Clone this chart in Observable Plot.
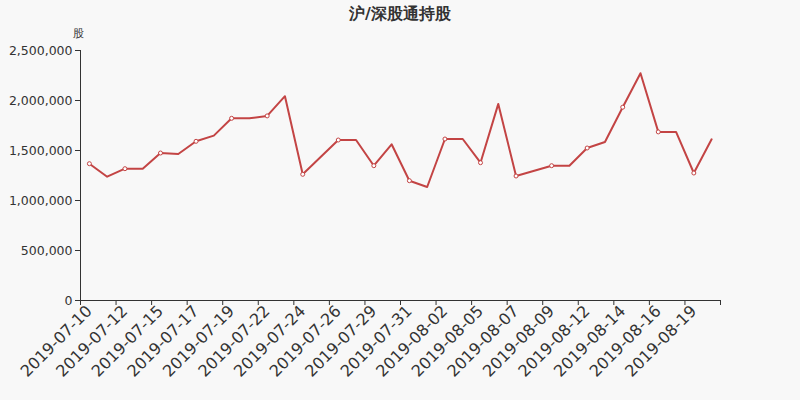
<!DOCTYPE html>
<html>
<head>
<meta charset="utf-8">
<script src="https://cdn.jsdelivr.net/npm/d3@7"></script>
<script src="https://cdn.jsdelivr.net/npm/@observablehq/plot@0.6"></script>
<style>
  body { margin: 0; background: #f8f8f8; font-family: "DejaVu Sans", sans-serif; }
  #wrap { position: relative; width: 800px; height: 400px; background: #f8f8f8; }
  #title { position: absolute; top: 0; left: 0; width: 800px; height: 28px; line-height: 28px; text-align: center; font-size: 16px; font-weight: bold; color: #333; z-index: 1; }
  #chart svg { display: block; }
</style>
</head>
<body>
<div id="wrap">
  <div id="title">沪/深股通持股</div>
  <div id="chart"></div>
</div>
<script>
const dates = [
  "2019-07-10","2019-07-11","2019-07-12","2019-07-13","2019-07-15","2019-07-16",
  "2019-07-17","2019-07-18","2019-07-19","2019-07-20","2019-07-22","2019-07-23",
  "2019-07-24","2019-07-25","2019-07-26","2019-07-27","2019-07-29","2019-07-30",
  "2019-07-31","2019-08-01","2019-08-02","2019-08-03","2019-08-05","2019-08-06",
  "2019-08-07","2019-08-08","2019-08-09","2019-08-10","2019-08-12","2019-08-13",
  "2019-08-14","2019-08-15","2019-08-16","2019-08-17","2019-08-19","2019-08-20"
];
const holdings = [
  1368000, 1238000, 1318000, 1318000, 1475000, 1465000,
  1592000, 1649000, 1822000, 1822000, 1846000, 2043000,
  1262000, null,    1605000, 1605000, 1348000, 1562000,
  1198000, 1135000, 1615000, 1615000, 1378000, 1966000,
  1245000, null,    1348000, 1348000, 1525000, 1585000,
  1933000, 2273000, 1686000, 1686000, 1275000, 1612000
];
const yTicks = [0, 500000, 1000000, 1500000, 2000000, 2500000];
const yUnit = "股";

const data = dates.map((d, i) => ({ i, date: d, value: holdings[i] }));
const present = data.filter(d => d.value != null);
const marked = present.filter(d => d.i % 2 === 0);
const n = dates.length;
const boundaryTicks = d3.range(0, n + 1, 2);
const labelTicks = d3.range(0, n, 2).map(i => i + 0.5);

const chart = Plot.plot({
  width: 800,
  height: 400,
  marginLeft: 80,
  marginRight: 80,
  marginTop: 50,
  marginBottom: 100,
  style: { background: "#f8f8f8", fontFamily: "DejaVu Sans, sans-serif", color: "#333" },
  x: { type: "linear", domain: [0, n] },
  y: { domain: [0, 2500000] },
  marks: [
    Plot.axisY({
      ticks: yTicks, tickSize: 5, tickPadding: 3,
      tickFormat: d3.format(","), label: null, fontSize: 12.5, stroke: "#333"
    }),
    Plot.ruleX([0], { stroke: "#333" }),
    Plot.axisX({
      ticks: boundaryTicks, tickSize: 5, tickFormat: () => "", label: null, stroke: "#333"
    }),
    Plot.ruleY([0], { stroke: "#333" }),
    Plot.axisX({
      ticks: labelTicks, tickSize: 0, tickPadding: 8, tickRotate: -45, label: null,
      tickFormat: v => dates[Math.round(v - 0.5)], fontSize: 16, fill: "#333"
    }),
    Plot.text([yUnit], { frameAnchor: "top-left", dx: -2, dy: -21, textAnchor: "middle", fontSize: 11, fill: "#333" }),
    Plot.line(present, { x: d => d.i + 0.5, y: "value", stroke: "#c34444", strokeWidth: 2 }),
    Plot.dot(marked, { x: d => d.i + 0.5, y: "value", r: 2, fill: "#fff", stroke: "#c34444", strokeWidth: 1 })
  ]
});
document.getElementById("chart").appendChild(chart);
</script>
</body>
</html>
